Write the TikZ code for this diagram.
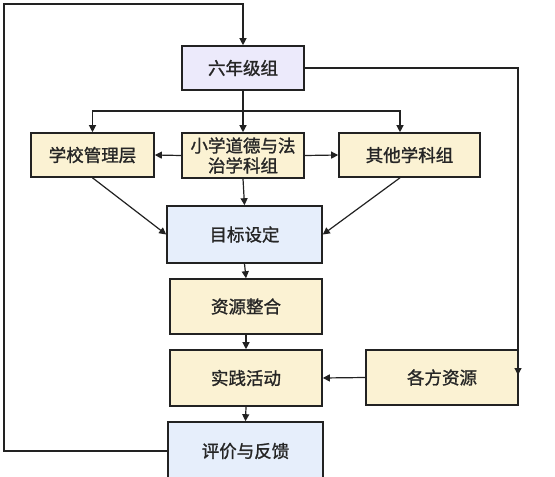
\documentclass[tikz,border=0pt]{standalone}
\usepackage{fontspec}
\newfontfamily\cjk[FakeBold=1.3]{Noto Sans CJK SC}
\usetikzlibrary{arrows.meta}
\definecolor{lav}{HTML}{ECEAFB}
\definecolor{yel}{HTML}{FBF2D3}
\definecolor{blu}{HTML}{E6EEFB}
\definecolor{edge}{HTML}{222222}
\tikzset{
  box/.style={draw=edge, line width=1.6pt, inner sep=0pt, align=center,
    font=\cjk\fontsize{17.5}{20}\selectfont, text=black!85},
  arr/.style={line width=1.2pt, draw=edge, -{Triangle[length=7pt,width=7pt]}},
  ln/.style={line width=1.2pt, draw=edge}
}
\begin{document}
\begin{tikzpicture}[x=1pt,y=-1pt]
\useasboundingbox (0,0) rectangle (555,477);
\clip (0,0) rectangle (555,477);
\fill[white] (0,0) rectangle (555,477);
\node[box, fill=lav, minimum width=122pt, minimum height=44pt] (six) at (243,68) {六年级组};
\node[box, fill=yel, minimum width=123pt, minimum height=44pt] (school) at (92.5,155) {学校管理层};
\node[box, fill=yel, minimum width=122pt, minimum height=45pt] (mid) at (243,155.5) {小学道德与法\\治学科组};
\node[box, fill=yel, minimum width=141pt, minimum height=44pt] (other) at (409.5,155) {其他学科组};
\node[box, fill=blu, minimum width=155pt, minimum height=57pt] (goal) at (244.5,234.5) {目标设定};
\node[box, fill=yel, minimum width=152pt, minimum height=55pt] (res) at (246,306.5) {资源整合};
\node[box, fill=yel, minimum width=152pt, minimum height=56pt] (prac) at (246,378) {实践活动};
\node[box, fill=yel, minimum width=152pt, minimum height=55pt] (ga) at (442,377.5) {各方资源};
\node[box, fill=blu, minimum width=155pt, minimum height=58pt] (fb) at (245.5,451) {评价与反馈};
\coordinate (c2) at (4,4);
\coordinate (r1) at (518,375);
\coordinate (br) at (243,111);
\draw[arr] (fb.west) -| (c2) -| (six.north);
\draw[arr] (six.east) -| (r1);
\draw[ln] (six.south) -- (br);
\draw[arr] (br) -| (school.north);
\draw[arr] (br) -| ([xshift=-9.5pt]other.north);
\draw[arr] (six.south) -- (mid.north);
\draw[arr] (mid.west) -- (school.east);
\draw[arr] (mid.east) -- (other.west);
\draw[arr] (school.south) -- (goal.west);
\draw[arr] ([xshift=-9.5pt]other.south) -- (goal.east);
\draw[arr] (mid.south) -- (goal.north);
\draw[arr] (goal.south) -- (res.north);
\draw[arr] (res.south) -- (prac.north);
\draw[arr] (prac.south) -- (fb.north);
\draw[arr] (ga.west) -- (prac.east);
\end{tikzpicture}
\end{document}
